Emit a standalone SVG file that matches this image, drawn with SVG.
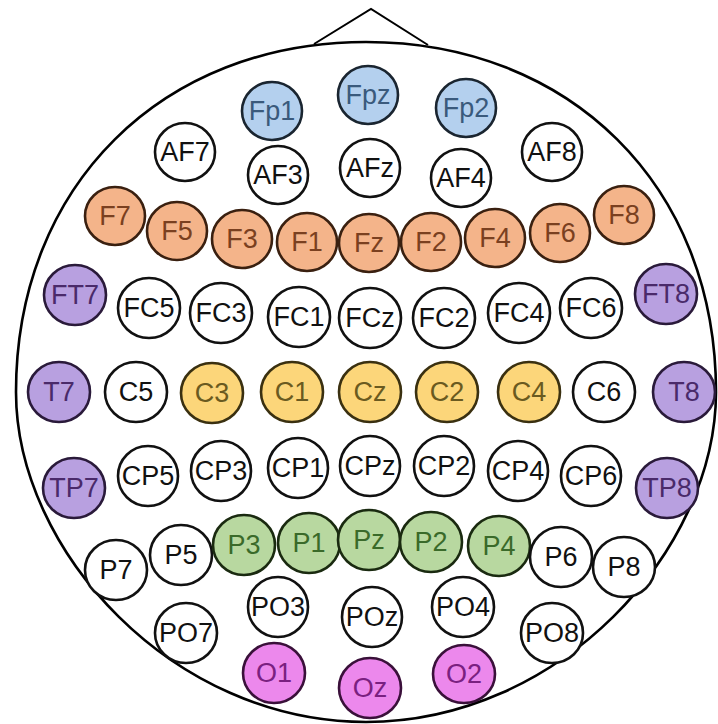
<svg xmlns="http://www.w3.org/2000/svg" width="718" height="724" viewBox="0 0 718 724">
<style>
.head{fill:#fff;stroke:#000;stroke-width:2.6}
.nose{fill:none;stroke:#000;stroke-width:2}
ellipse.e{stroke-width:2.6}
.w ellipse{fill:#fff;stroke:#111}
.w text{fill:#111}
.b ellipse{fill:#b4d0ee;stroke:#1a2530}
.b text{fill:#3a5a7c}
.o ellipse{fill:#f4b48a;stroke:#3a2010}
.o text{fill:#7a4020}
.v ellipse{fill:#b8a0e0;stroke:#2a1a3a}
.v text{fill:#4a2a6a}
.y ellipse{fill:#fcd67a;stroke:#3a3010}
.y text{fill:#6a5a20}
.g ellipse{fill:#b8d8a0;stroke:#1a2a10}
.g text{fill:#3a6a2a}
.m ellipse{fill:#ec88ec;stroke:#3a103a}
.m text{fill:#7a2080}
text{font-family:"Liberation Sans",Arial,sans-serif;font-size:27px;text-anchor:middle}
</style>
<defs></defs>
<g id="head">
<polyline class="nose" points="314,44 371,9 428,45"/>
<path class="head" d="M366,42 C569,42 716,185 716,392 C716,551 559,722 366,722 C173,722 16,551 16,392 C16,185 163,42 366,42 Z"/>
</g>
<g id="connectors"></g>
<g id="n-Fp1" class="b"><ellipse class="e" cx="272" cy="111" rx="30" ry="29"/><text x="272" y="120">Fp1</text></g>
<g id="n-Fpz" class="b"><ellipse class="e" cx="368" cy="95" rx="30" ry="29"/><text x="368" y="104">Fpz</text></g>
<g id="n-Fp2" class="b"><ellipse class="e" cx="466" cy="108" rx="30" ry="29"/><text x="466" y="117">Fp2</text></g>
<g id="n-AF7" class="w"><ellipse class="e" cx="185" cy="152" rx="30" ry="29"/><text x="185" y="161">AF7</text></g>
<g id="n-AF3" class="w"><ellipse class="e" cx="278" cy="175" rx="30" ry="29"/><text x="278" y="184">AF3</text></g>
<g id="n-AFz" class="w"><ellipse class="e" cx="370" cy="168" rx="30" ry="29"/><text x="370" y="177">AFz</text></g>
<g id="n-AF4" class="w"><ellipse class="e" cx="461" cy="178" rx="30" ry="29"/><text x="461" y="187">AF4</text></g>
<g id="n-AF8" class="w"><ellipse class="e" cx="552" cy="152" rx="30" ry="29"/><text x="552" y="161">AF8</text></g>
<g id="n-F7" class="o"><ellipse class="e" cx="115" cy="216" rx="30" ry="29"/><text x="115" y="225">F7</text></g>
<g id="n-F5" class="o"><ellipse class="e" cx="177" cy="231" rx="30" ry="29"/><text x="177" y="240">F5</text></g>
<g id="n-F3" class="o"><ellipse class="e" cx="242" cy="239" rx="30" ry="29"/><text x="242" y="248">F3</text></g>
<g id="n-F1" class="o"><ellipse class="e" cx="307" cy="242" rx="30" ry="29"/><text x="307" y="251">F1</text></g>
<g id="n-Fz" class="o"><ellipse class="e" cx="369" cy="243" rx="30" ry="29"/><text x="369" y="252">Fz</text></g>
<g id="n-F2" class="o"><ellipse class="e" cx="431" cy="242" rx="30" ry="29"/><text x="431" y="251">F2</text></g>
<g id="n-F4" class="o"><ellipse class="e" cx="495" cy="238" rx="30" ry="29"/><text x="495" y="247">F4</text></g>
<g id="n-F6" class="o"><ellipse class="e" cx="560" cy="233" rx="30" ry="29"/><text x="560" y="242">F6</text></g>
<g id="n-F8" class="o"><ellipse class="e" cx="624" cy="215" rx="30" ry="29"/><text x="624" y="224">F8</text></g>
<g id="n-FT7" class="v"><ellipse class="e" cx="75" cy="295" rx="31" ry="30"/><text x="75" y="304">FT7</text></g>
<g id="n-FC5" class="w"><ellipse class="e" cx="149" cy="308" rx="31" ry="30"/><text x="149" y="317">FC5</text></g>
<g id="n-FC3" class="w"><ellipse class="e" cx="221" cy="313" rx="31" ry="30"/><text x="221" y="322">FC3</text></g>
<g id="n-FC1" class="w"><ellipse class="e" cx="299" cy="317" rx="31" ry="30"/><text x="299" y="326">FC1</text></g>
<g id="n-FCz" class="w"><ellipse class="e" cx="370" cy="318" rx="31" ry="30"/><text x="370" y="327">FCz</text></g>
<g id="n-FC2" class="w"><ellipse class="e" cx="444" cy="318" rx="31" ry="30"/><text x="444" y="327">FC2</text></g>
<g id="n-FC4" class="w"><ellipse class="e" cx="519" cy="313" rx="31" ry="30"/><text x="519" y="322">FC4</text></g>
<g id="n-FC6" class="w"><ellipse class="e" cx="591" cy="308" rx="31" ry="30"/><text x="591" y="317">FC6</text></g>
<g id="n-FT8" class="v"><ellipse class="e" cx="666" cy="294" rx="31" ry="30"/><text x="666" y="303">FT8</text></g>
<g id="n-T7" class="v"><ellipse class="e" cx="59" cy="392" rx="31" ry="30"/><text x="59" y="401">T7</text></g>
<g id="n-C5" class="w"><ellipse class="e" cx="136" cy="392" rx="31" ry="30"/><text x="136" y="401">C5</text></g>
<g id="n-C3" class="y"><ellipse class="e" cx="212" cy="393" rx="31" ry="30"/><text x="212" y="402">C3</text></g>
<g id="n-C1" class="y"><ellipse class="e" cx="292" cy="392" rx="31" ry="30"/><text x="292" y="401">C1</text></g>
<g id="n-Cz" class="y"><ellipse class="e" cx="370" cy="392" rx="31" ry="30"/><text x="370" y="401">Cz</text></g>
<g id="n-C2" class="y"><ellipse class="e" cx="447" cy="392" rx="31" ry="30"/><text x="447" y="401">C2</text></g>
<g id="n-C4" class="y"><ellipse class="e" cx="529" cy="392" rx="31" ry="30"/><text x="529" y="401">C4</text></g>
<g id="n-C6" class="w"><ellipse class="e" cx="604" cy="392" rx="31" ry="30"/><text x="604" y="401">C6</text></g>
<g id="n-T8" class="v"><ellipse class="e" cx="684" cy="392" rx="31" ry="30"/><text x="684" y="401">T8</text></g>
<g id="n-TP7" class="v"><ellipse class="e" cx="74" cy="488" rx="31" ry="30"/><text x="74" y="497">TP7</text></g>
<g id="n-CP5" class="w"><ellipse class="e" cx="148" cy="476" rx="30" ry="30"/><text x="148" y="485">CP5</text></g>
<g id="n-CP3" class="w"><ellipse class="e" cx="221" cy="471" rx="30" ry="30"/><text x="221" y="480">CP3</text></g>
<g id="n-CP1" class="w"><ellipse class="e" cx="298" cy="468" rx="30" ry="30"/><text x="298" y="477">CP1</text></g>
<g id="n-CPz" class="w"><ellipse class="e" cx="370" cy="466" rx="30" ry="30"/><text x="370" y="475">CPz</text></g>
<g id="n-CP2" class="w"><ellipse class="e" cx="444" cy="466" rx="30" ry="30"/><text x="444" y="475">CP2</text></g>
<g id="n-CP4" class="w"><ellipse class="e" cx="518" cy="471" rx="30" ry="30"/><text x="518" y="480">CP4</text></g>
<g id="n-CP6" class="w"><ellipse class="e" cx="591" cy="476" rx="30" ry="30"/><text x="591" y="485">CP6</text></g>
<g id="n-TP8" class="v"><ellipse class="e" cx="667" cy="488" rx="31" ry="30"/><text x="667" y="497">TP8</text></g>
<g id="n-P7" class="w"><ellipse class="e" cx="116" cy="570" rx="31" ry="30"/><text x="116" y="579">P7</text></g>
<g id="n-P5" class="w"><ellipse class="e" cx="181" cy="555" rx="31" ry="30"/><text x="181" y="564">P5</text></g>
<g id="n-P3" class="g"><ellipse class="e" cx="244" cy="545" rx="31" ry="30"/><text x="244" y="554">P3</text></g>
<g id="n-P1" class="g"><ellipse class="e" cx="309" cy="543" rx="31" ry="30"/><text x="309" y="552">P1</text></g>
<g id="n-Pz" class="g"><ellipse class="e" cx="369" cy="540" rx="31" ry="30"/><text x="369" y="549">Pz</text></g>
<g id="n-P2" class="g"><ellipse class="e" cx="431" cy="542" rx="31" ry="30"/><text x="431" y="551">P2</text></g>
<g id="n-P4" class="g"><ellipse class="e" cx="499" cy="546" rx="31" ry="30"/><text x="499" y="555">P4</text></g>
<g id="n-P6" class="w"><ellipse class="e" cx="561" cy="557" rx="31" ry="30"/><text x="561" y="566">P6</text></g>
<g id="n-P8" class="w"><ellipse class="e" cx="624" cy="567" rx="31" ry="30"/><text x="624" y="576">P8</text></g>
<g id="n-PO7" class="w"><ellipse class="e" cx="186" cy="633" rx="31" ry="30"/><text x="186" y="642">PO7</text></g>
<g id="n-PO3" class="w"><ellipse class="e" cx="278" cy="607" rx="30" ry="30"/><text x="278" y="616">PO3</text></g>
<g id="n-POz" class="w"><ellipse class="e" cx="372" cy="617" rx="30" ry="30"/><text x="372" y="626">POz</text></g>
<g id="n-PO4" class="w"><ellipse class="e" cx="463" cy="607" rx="31" ry="30"/><text x="463" y="616">PO4</text></g>
<g id="n-PO8" class="w"><ellipse class="e" cx="552" cy="633" rx="31" ry="30"/><text x="552" y="642">PO8</text></g>
<g id="n-O1" class="m"><ellipse class="e" cx="274" cy="673" rx="31" ry="30"/><text x="274" y="682">O1</text></g>
<g id="n-Oz" class="m"><ellipse class="e" cx="370" cy="688" rx="31" ry="30"/><text x="370" y="697">Oz</text></g>
<g id="n-O2" class="m"><ellipse class="e" cx="464" cy="674" rx="31" ry="29"/><text x="464" y="683">O2</text></g>
</svg>
